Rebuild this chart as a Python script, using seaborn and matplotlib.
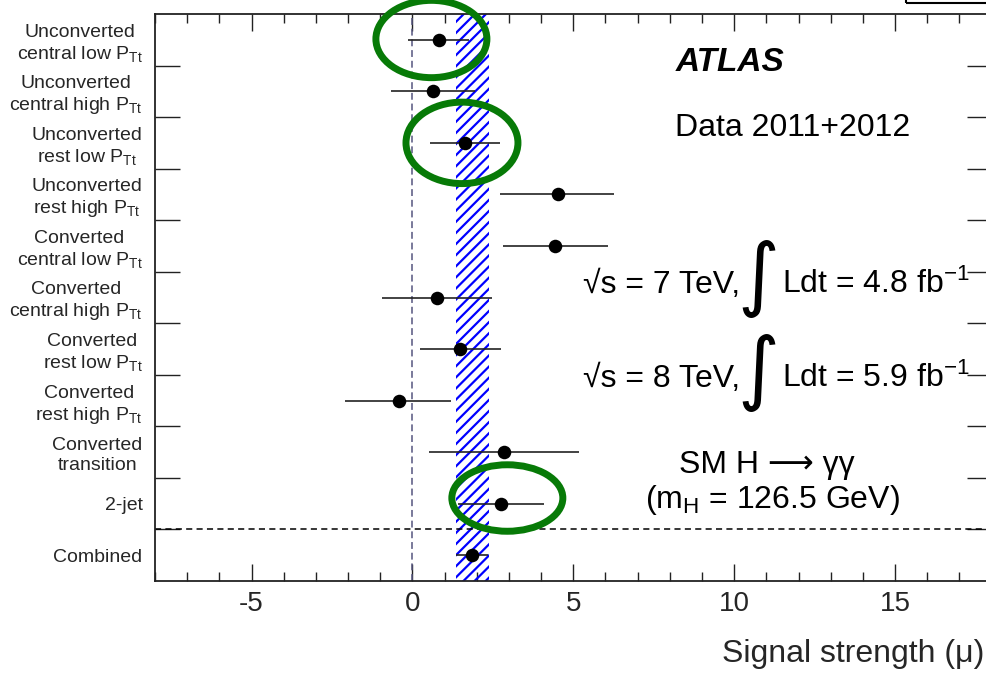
import matplotlib
matplotlib.use("Agg")
import matplotlib.pyplot as plt
from matplotlib.patches import Ellipse, Rectangle
from matplotlib.ticker import FixedLocator, MultipleLocator
import pandas as pd
import seaborn as sns

# Per-category signal strength measurements (best fit and 1-sigma interval)
categories = [
    "Unconverted\ncentral low P$_{\\mathrm{Tt}}$",
    "Unconverted\ncentral high P$_{\\mathrm{Tt}}$",
    "Unconverted\nrest low P$_{\\mathrm{Tt}}$",
    "Unconverted\nrest high P$_{\\mathrm{Tt}}$",
    "Converted\ncentral low P$_{\\mathrm{Tt}}$",
    "Converted\ncentral high P$_{\\mathrm{Tt}}$",
    "Converted\nrest low P$_{\\mathrm{Tt}}$",
    "Converted\nrest high P$_{\\mathrm{Tt}}$",
    "Converted\ntransition",
    "2-jet",
    "Combined",
]
mu = [0.83, 0.64, 1.64, 4.53, 4.44, 0.75, 1.49, -0.43, 2.86, 2.75, 1.86]
mu_lo = [-0.13, -0.66, 0.56, 2.73, 2.83, -0.96, 0.25, -2.08, 0.52, 1.43, 1.37]
mu_hi = [1.77, 1.93, 2.71, 6.27, 6.09, 2.48, 2.76, 1.21, 5.19, 4.08, 2.34]

# Combined result uncertainty band
band_lo, band_hi = 1.37, 2.37

x_ticks = [-5, 0, 5, 10, 15]

df = pd.DataFrame({"category": categories, "mu": mu, "lo": mu_lo, "hi": mu_hi})
df["row"] = range(len(df))

sns.set_theme(style="white")
plt.rcParams["font.family"] = ["Liberation Sans", "DejaVu Sans"]
plt.rcParams["mathtext.fontset"] = "custom"
plt.rcParams["mathtext.rm"] = "Liberation Sans"
plt.rcParams["mathtext.it"] = "Liberation Sans:italic"
plt.rcParams["mathtext.bf"] = "Liberation Sans:bold"
plt.rcParams["hatch.linewidth"] = 1.6

fig = plt.figure(figsize=(9.86, 6.8), dpi=100)
ax = fig.add_axes([155 / 986, 99 / 680, 836.6 / 986, 567 / 680])

# hatched band for the combined measurement
ax.axvspan(band_lo, band_hi, facecolor="none", edgecolor="#0000ff",
           hatch="///", linewidth=0, zorder=1)

# SM expectation reference line and separator before combined
ax.axvline(0, color="#55557f", lw=1.1, ls=(0, (4.5, 2.5)), zorder=1)
ax.axhline(len(df) - 1.5, color="black", lw=1.1, ls=(0, (4, 2.8)), zorder=1)

ax.hlines(df["row"], df["lo"], df["hi"], color="#222222", lw=1.2, zorder=3)
sns.scatterplot(data=df, x="mu", y="row", ax=ax, color="black", s=95,
                edgecolor="black", linewidth=0, zorder=4, legend=False)

ax.set_xlim(-8, 18)
ax.set_ylim(len(df) - 0.5, -0.5)

ax.xaxis.set_major_locator(FixedLocator(x_ticks))
ax.xaxis.set_minor_locator(MultipleLocator(1))
ax.set_xticklabels([str(v) for v in x_ticks])
ax.tick_params(axis="x", which="major", direction="in", length=12.5, width=1.0,
               top=True, bottom=True, labelsize=20, pad=7, color="#222222")
ax.tick_params(axis="x", which="minor", direction="in", length=6.3, width=1.0,
               top=True, bottom=True, color="#222222")

ax.yaxis.set_major_locator(FixedLocator(df["row"].tolist()))
ax.set_yticklabels(df["category"], multialignment="center")
ax.yaxis.set_minor_locator(FixedLocator([r + 0.5 for r in range(len(df) - 1)]))
ax.tick_params(axis="y", which="major", length=0, labelsize=14, pad=9)
ax.tick_params(axis="y", which="minor", direction="in", length=18, width=1.0,
               left=True, right=True, color="#222222")

for s in ax.spines.values():
    s.set_linewidth(1.3)
    s.set_color("#222222")

ax.set_ylabel("")
ax.set_xlabel("Signal strength (\u03bc)", fontsize=23, ha="right", va="top")
ax.xaxis.set_label_coords(0.991, -0.102)

# labels
tx = dict(transform=ax.transData, color="black")
ax.text(8.17, 0.606, "ATLAS", fontweight="bold", fontstyle="italic",
        fontsize=24, va="baseline", ha="left", **tx)
ax.text(8.17, 1.867, "Data 2011+2012", fontsize=23, va="baseline", ha="left", **tx)

for yb, yi, energy, lumi in [(4.912, 4.64, "7", "4.8"), (6.736, 6.47, "8", "5.9")]:
    ax.text(5.3, yb, "\u221as = " + energy + " TeV,", fontsize=23,
            va="baseline", ha="left", **tx)
    ax.text(10.75, yi, "\u222b", va="center", ha="center", family="DejaVu Sans",
            fontsize=58, **tx)
    ax.text(11.5, yb, "Ldt = " + lumi + " fb$^{\\mathrm{-1}}$", fontsize=23,
            va="baseline", ha="left", **tx)

ax.text(11.0, 8.404, "SM H \u27f6 \u03b3\u03b3", fontsize=23, va="baseline",
        ha="center", **tx)
ax.text(11.18, 9.083, "(m$_{\\mathrm{H}}$ = 126.5 GeV)", fontsize=23,
        va="baseline", ha="center", **tx)

# highlighted categories
for (cx, cy, w, h) in [(0.59, -0.015, 3.45, 1.50),
                       (1.54, 2.0, 3.48, 1.58),
                       (2.95, 8.89, 3.45, 1.29)]:
    ax.add_patch(Ellipse((cx, cy), w, h, fill=False, edgecolor="#077a07",
                         lw=5.0, zorder=6, clip_on=False))

fig.add_artist(Rectangle((906 / 986, 677.5 / 680), 0.2, 0.1,
                         transform=fig.transFigure, fill=False,
                         lw=1.5, edgecolor="black"))

fig.savefig("out.png", dpi=100)
